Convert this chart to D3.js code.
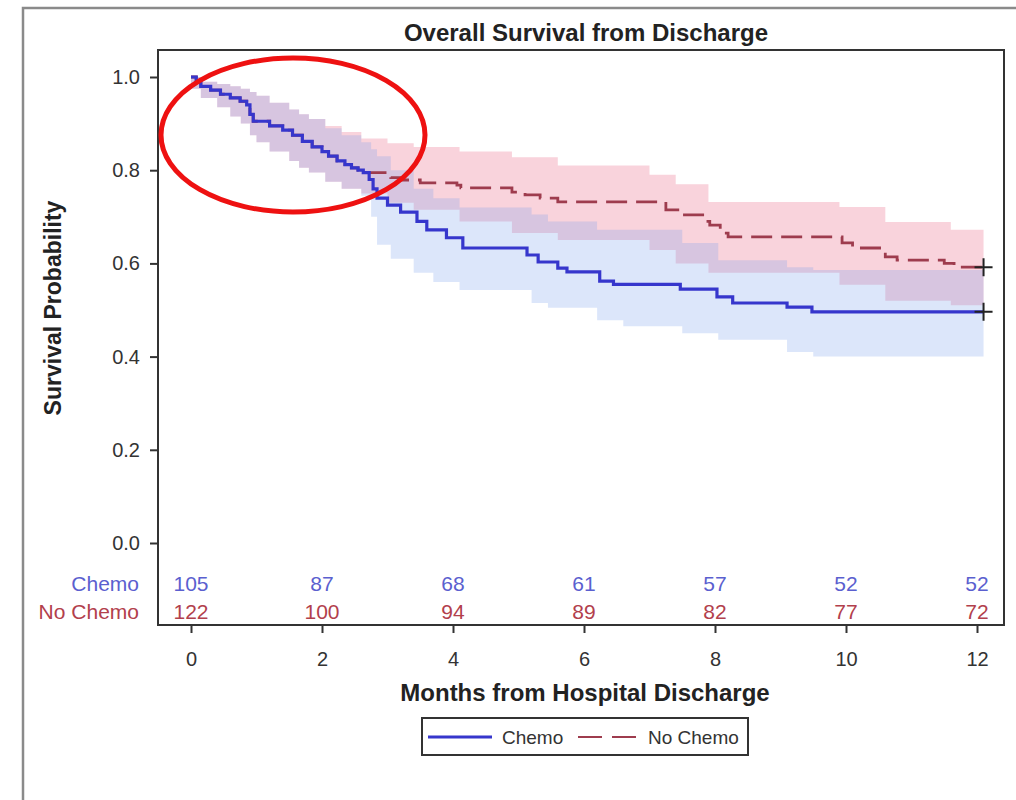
<!DOCTYPE html>
<html>
<head>
<meta charset="utf-8">
<script src="https://cdn.jsdelivr.net/npm/d3@7"></script>
<style>
    body { margin: 0; background: #fff; }
    text { font-family: "Liberation Sans", Arial, sans-serif; }
</style>
</head>
<body>
<div id="chart"></div>
<script>
// Data
const xTicks = [0, 2, 4, 6, 8, 10, 12];
const yTicks = [0.0, 0.2, 0.4, 0.6, 0.8, 1.0];
const endTime = 12.1;

// Kaplan-Meier steps: [month, survival]
const chemoCurve = [
    [0, 1.0], [0.08, 0.99], [0.15, 0.98], [0.3, 0.972], [0.45, 0.963], [0.6, 0.955],
    [0.75, 0.948], [0.85, 0.94], [0.9, 0.92], [0.95, 0.905], [1.2, 0.895], [1.4, 0.886],
    [1.55, 0.875], [1.7, 0.862], [1.85, 0.85], [2.0, 0.84], [2.1, 0.83], [2.23, 0.82],
    [2.35, 0.812], [2.45, 0.805], [2.55, 0.8], [2.63, 0.795], [2.72, 0.78], [2.78, 0.76],
    [2.84, 0.74], [3.0, 0.725], [3.2, 0.71], [3.45, 0.69], [3.6, 0.672],
    [3.9, 0.655], [4.15, 0.633], [5.13, 0.618], [5.3, 0.603], [5.6, 0.59], [5.74, 0.582],
    [6.24, 0.562], [6.45, 0.555], [7.47, 0.545], [8.03, 0.528], [8.27, 0.515],
    [9.1, 0.506], [9.48, 0.496]
];
const noChemoCurve = [
    [0, 1.0], [0.08, 0.99], [0.15, 0.98], [0.3, 0.972], [0.45, 0.963], [0.6, 0.955],
    [0.75, 0.948], [0.85, 0.94], [0.9, 0.92], [0.95, 0.905], [1.2, 0.895], [1.4, 0.886],
    [1.55, 0.875], [1.7, 0.862], [1.85, 0.85], [2.0, 0.84], [2.1, 0.83], [2.23, 0.82],
    [2.35, 0.812], [2.45, 0.805], [2.55, 0.8], [2.63, 0.795],
    [3.05, 0.784], [3.19, 0.779], [3.5, 0.773], [4.06, 0.768], [4.12, 0.762], [4.9, 0.753],
    [5.1, 0.747], [5.33, 0.74], [5.6, 0.732], [7.25, 0.715], [7.5, 0.704], [7.85, 0.69],
    [7.92, 0.682], [8.08, 0.665], [8.2, 0.657], [9.94, 0.644], [10.1, 0.633],
    [10.6, 0.614], [10.78, 0.607], [11.5, 0.6], [11.65, 0.592]
];

// Confidence bands: [month, lower, upper]
const chemoBand = [
    [0, 0.975, 1.0], [0.15, 0.955, 0.99], [0.4, 0.935, 0.985], [0.6, 0.915, 0.98],
    [0.76, 0.9, 0.975], [0.9, 0.875, 0.968], [1.0, 0.86, 0.96], [1.2, 0.84, 0.945],
    [1.5, 0.82, 0.93], [1.65, 0.805, 0.92], [1.8, 0.795, 0.91], [2.05, 0.775, 0.89],
    [2.3, 0.76, 0.875], [2.6, 0.745, 0.86], [2.75, 0.7, 0.845],
    [2.84, 0.64, 0.83], [3.05, 0.61, 0.80], [3.4, 0.58, 0.76], [3.7, 0.56, 0.74],
    [4.1, 0.543, 0.72], [5.2, 0.515, 0.705], [5.45, 0.505, 0.69], [6.2, 0.478, 0.672],
    [6.6, 0.465, 0.672], [7.5, 0.45, 0.644], [8.05, 0.436, 0.607], [9.1, 0.41, 0.592],
    [9.5, 0.40, 0.586]
];
const noChemoBand = [
    [0, 0.975, 1.0], [0.15, 0.955, 0.99], [0.4, 0.935, 0.985], [0.6, 0.915, 0.98],
    [0.76, 0.9, 0.975], [0.9, 0.875, 0.968], [1.0, 0.86, 0.96], [1.2, 0.84, 0.945],
    [1.5, 0.82, 0.93], [1.65, 0.805, 0.92], [1.8, 0.795, 0.91], [2.05, 0.775, 0.895],
    [2.3, 0.76, 0.882], [2.6, 0.75, 0.868], [3.0, 0.73, 0.858], [3.4, 0.715, 0.85],
    [4.1, 0.69, 0.84], [4.9, 0.665, 0.828], [5.6, 0.65, 0.81], [7.0, 0.629, 0.79],
    [7.4, 0.60, 0.77], [7.9, 0.58, 0.732], [9.9, 0.554, 0.721], [10.6, 0.52, 0.689],
    [11.6, 0.51, 0.672]
];

// Numbers at risk
const groups = ["Chemo", "No Chemo"];
const chemoAtRisk = [105, 87, 68, 61, 57, 52, 52];
const noChemoAtRisk = [122, 100, 94, 89, 82, 77, 72];

// Colors
const blue = "#3636cc";
const red = "#9e3c4e";
const blueText = "#5b5fcf";
const redText = "#b2404c";

// Layout
const W = 1016, H = 800;
const frame = { left: 158, top: 50, right: 1004, bottom: 625 };

const svg = d3.select("#chart").append("svg")
    .attr("width", W)
    .attr("height", H);

// outer border of the graph
svg.append("rect")
    .attr("x", 23).attr("y", 8)
    .attr("width", 1010).attr("height", 800)
    .attr("fill", "#fff")
    .attr("stroke", "#8a8a8a")
    .attr("stroke-width", 2.5);

const x = d3.scaleLinear().domain([0, 12]).range([191, 977]);
const y = d3.scaleLinear().domain([0, 1]).range([543, 77]);

svg.append("clipPath").attr("id", "plot-clip")
    .append("rect")
    .attr("x", frame.left).attr("y", frame.top)
    .attr("width", frame.right - frame.left)
    .attr("height", frame.bottom - frame.top);

const plot = svg.append("g").attr("clip-path", "url(#plot-clip)");

// --- Bands ---
const band = d3.area()
    .curve(d3.curveStepAfter)
    .x(d => x(d[0]))
    .y0(d => y(d[1]))
    .y1(d => y(d[2]));

function withEnd(arr) {
    const last = arr[arr.length - 1];
    return arr.concat([[endTime].concat(last.slice(1))]);
}

plot.append("path")
    .datum(withEnd(noChemoBand))
    .attr("d", band)
    .attr("fill", "rgb(236,110,140)")
    .attr("fill-opacity", 0.3);

plot.append("path")
    .datum(withEnd(chemoBand))
    .attr("d", band)
    .attr("fill", "rgb(120,160,236)")
    .attr("fill-opacity", 0.26);

// --- Survival curves ---
const step = d3.line()
    .curve(d3.curveStepAfter)
    .x(d => x(d[0]))
    .y(d => y(d[1]));

plot.append("path")
    .datum(withEnd(noChemoCurve))
    .attr("d", step)
    .attr("fill", "none")
    .attr("stroke", red)
    .attr("stroke-width", 2.8)
    .attr("stroke-dasharray", "21 9");

plot.append("path")
    .datum(withEnd(chemoCurve))
    .attr("d", step)
    .attr("fill", "none")
    .attr("stroke", blue)
    .attr("stroke-width", 3.2);

// censor marks at the end
[chemoCurve, noChemoCurve].forEach(c => {
    const cx = x(endTime), cy = y(c[c.length - 1][1]);
    svg.append("path")
        .attr("d", `M${cx - 9},${cy}H${cx + 9}M${cx},${cy - 9}V${cy + 9}`)
        .attr("stroke", "#222")
        .attr("stroke-width", 2);
});

// --- Frame ---
svg.append("rect")
    .attr("x", frame.left).attr("y", frame.top)
    .attr("width", frame.right - frame.left)
    .attr("height", frame.bottom - frame.top)
    .attr("fill", "none")
    .attr("stroke", "#333")
    .attr("stroke-width", 2);

// --- Axes ---
const yAxis = svg.append("g")
    .attr("transform", `translate(${frame.left},0)`)
    .call(d3.axisLeft(y).tickValues(yTicks).tickFormat(d3.format(".1f")).tickSize(8).tickPadding(10));
yAxis.select(".domain").remove();
yAxis.selectAll("line").attr("stroke", "#333").attr("stroke-width", 2);
yAxis.selectAll("text")
    .style("font-size", "20px")
    .style("font-family", "Liberation Sans, Arial, sans-serif")
    .attr("fill", "#333");

const xAxis = svg.append("g")
    .attr("transform", `translate(0,${frame.bottom})`)
    .call(d3.axisBottom(x).tickValues(xTicks).tickSize(8).tickPadding(19));
xAxis.select(".domain").remove();
xAxis.selectAll("line").attr("stroke", "#333").attr("stroke-width", 2);
xAxis.selectAll("text")
    .style("font-size", "20px")
    .style("font-family", "Liberation Sans, Arial, sans-serif")
    .attr("fill", "#333");

// --- Numbers at risk ---
const riskRows = [chemoAtRisk, noChemoAtRisk];
const rowColors = [blueText, redText];
const rowY = [591, 619];

groups.forEach((g, i) => {
    svg.append("text")
        .attr("x", 139)
        .attr("y", rowY[i])
        .attr("text-anchor", "end")
        .style("font-size", "21px")
        .attr("fill", rowColors[i])
        .text(g);

    svg.selectAll(null)
        .data(riskRows[i])
        .enter()
        .append("text")
        .attr("x", (d, j) => x(xTicks[j]))
        .attr("y", rowY[i])
        .attr("text-anchor", "middle")
        .style("font-size", "21px")
        .attr("fill", rowColors[i])
        .text(d => d);
});

// --- Titles ---
svg.append("text")
    .attr("x", 586).attr("y", 41)
    .attr("text-anchor", "middle")
    .style("font-size", "24px")
    .style("font-weight", "bold")
    .attr("fill", "#222")
    .text("Overall Survival from Discharge");

svg.append("text")
    .attr("x", 585).attr("y", 701)
    .attr("text-anchor", "middle")
    .style("font-size", "24px")
    .style("font-weight", "bold")
    .attr("fill", "#222")
    .text("Months from Hospital Discharge");

svg.append("text")
    .attr("transform", "translate(61,308) rotate(-90)")
    .attr("text-anchor", "middle")
    .style("font-size", "23px")
    .style("font-weight", "bold")
    .attr("fill", "#222")
    .text("Survival Probability");

// --- Legend ---
const legend = svg.append("g").attr("transform", "translate(422,718)");
legend.append("rect")
    .attr("width", 326).attr("height", 37)
    .attr("fill", "#fff")
    .attr("stroke", "#333")
    .attr("stroke-width", 2);
legend.append("line")
    .attr("x1", 6).attr("x2", 70).attr("y1", 19).attr("y2", 19)
    .attr("stroke", blue).attr("stroke-width", 3);
legend.append("text")
    .attr("x", 80).attr("y", 26)
    .style("font-size", "19px")
    .attr("fill", "#333")
    .text(groups[0]);
legend.append("line")
    .attr("x1", 156).attr("x2", 214).attr("y1", 19).attr("y2", 19)
    .attr("stroke", red).attr("stroke-width", 2)
    .attr("stroke-dasharray", "24 10");
legend.append("text")
    .attr("x", 226).attr("y", 26)
    .style("font-size", "19px")
    .attr("fill", "#333")
    .text(groups[1]);

// --- Red ellipse annotation ---
svg.append("ellipse")
    .attr("cx", 293).attr("cy", 135)
    .attr("rx", 132).attr("ry", 77)
    .attr("fill", "none")
    .attr("stroke", "#ee1111")
    .attr("stroke-width", 5);
</script>
</body>
</html>
